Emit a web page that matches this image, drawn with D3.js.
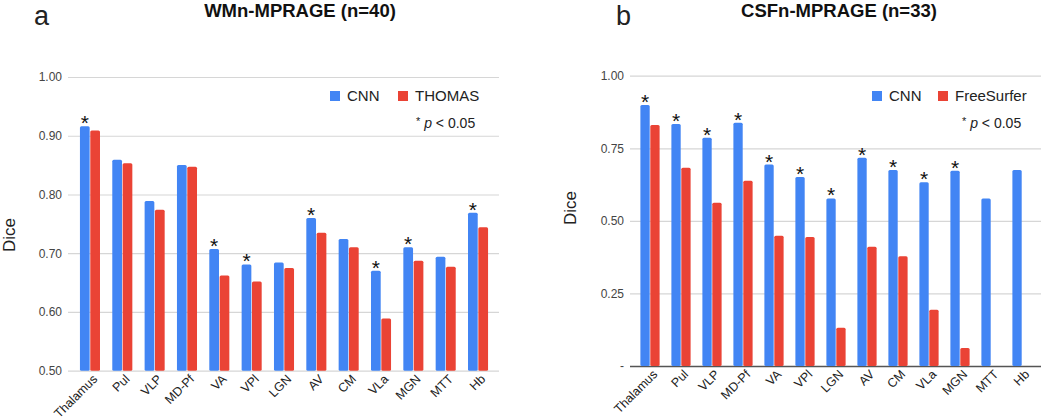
<!DOCTYPE html>
<html><head><meta charset="utf-8">
<script src="https://cdn.jsdelivr.net/npm/d3@7"></script>
<style>body{margin:0;background:#fff}svg{display:block;font-family:Arial,"Liberation Sans",sans-serif}</style>
</head><body><svg id="c" width="1050" height="420"></svg>
<script>
const categories = ["Thalamus","Pul","VLP","MD-Pf","VA","VPl","LGN","AV","CM","VLa","MGN","MTT","Hb"];
// Panel a: WMn-MPRAGE
const cnnA    = [0.916,0.859,0.789,0.850,0.707,0.681,0.684,0.760,0.724,0.670,0.710,0.694,0.769];
const thomasA = [0.909,0.853,0.774,0.847,0.662,0.652,0.675,0.735,0.710,0.589,0.687,0.677,0.744];
const sigA    = [true,false,false,false,true,true,false,true,false,true,true,false,true];
const ticksA  = [0.5,0.6,0.7,0.8,0.9,1.0];
const tickLabelsA = ["0.50","0.60","0.70","0.80","0.90","1.00"];
// Panel b: CSFn-MPRAGE
const cnnB        = [0.899,0.834,0.786,0.838,0.694,0.651,0.577,0.717,0.675,0.633,0.673,0.577,0.675];
const freesurferB = [0.830,0.683,0.562,0.638,0.449,0.444,0.132,0.411,0.378,0.194,0.062,null,null];
const sigB        = [true,true,true,true,true,true,true,true,true,true,true,false,false];
const ticksB  = [0,0.25,0.5,0.75,1.0];
const tickLabelsB = ["-","0.25","0.50","0.75","1.00"];

const BLUE = "#4285F4", RED = "#EA4335";
const svg = d3.select("#c");

function panel(o){
  const g = svg.append("g");
  const x0 = d3.scaleBand().domain(categories).range(o.xr);
  const x1 = d3.scaleBand().domain([0,1]).range([x0.bandwidth()*0.19, x0.bandwidth()*0.81]).paddingInner(0.06);
  const y = d3.scaleLinear().domain(o.yd).range(o.yr);

  const ax = d3.axisLeft(y).tickValues(o.ticks).tickFormat((d,i)=>o.tickLabels[i]).tickSize(-(o.gx[1]-o.gx[0])).tickPadding(6);
  const axg = g.append("g").attr("transform",`translate(${o.gx[0]},0)`).call(ax);
  axg.select(".domain").remove();
  axg.selectAll(".tick line").attr("stroke","#d6d6d6").attr("stroke-width",1.2);
  axg.selectAll(".tick text").attr("fill","#444").attr("font-size",12).attr("font-family","Arial,'Liberation Sans',sans-serif");
  if (o.darkBase) {
    axg.selectAll(".tick").filter(d=>d===o.yd[0]).select("line").attr("stroke","#555").attr("stroke-width",1.5);
  }

  const series = [o.s1, o.s2];
  const colors = [BLUE, RED];
  series.forEach((vals,si)=>{
    g.append("g").selectAll("rect").data(categories.map((c,i)=>({c,v:vals[i]})).filter(d=>d.v!=null))
      .join("rect")
      .attr("x",d=>x0(d.c)+x1(si))
      .attr("width",x1.bandwidth())
      .attr("y",d=>y(d.v))
      .attr("height",d=>y(o.yd[0])-y(d.v))
      .attr("rx",1.5)
      .attr("fill",colors[si]);
  });
  g.append("g").selectAll("text").data(categories.map((c,i)=>({c,v:o.s1[i],s:o.sig[i]})).filter(d=>d.s))
    .join("text")
    .attr("x",d=>x0(d.c)+x1(0)+x1.bandwidth()/2)
    .attr("y",d=>y(d.v)+4)
    .attr("text-anchor","middle").attr("font-size",21).attr("fill","#111")
    .text("*");

  g.append("g").selectAll("text").data(categories).join("text")
    .attr("transform",d=>`translate(${x0(d)+x0.bandwidth()/2+5},${y(o.yd[0])+6}) rotate(-45)`)
    .attr("text-anchor","end").attr("font-size",12.5).attr("fill","#222")
    .attr("dy","0.35em")
    .text(d=>d);

  g.append("text").attr("transform",`translate(${o.dice[0]},${o.dice[1]}) rotate(-90)`)
    .attr("text-anchor","middle").attr("font-size",17).attr("fill","#222").text("Dice");

  g.append("text").attr("x",o.letter[0]).attr("y",25).attr("font-size",27).attr("fill","#222").text(o.letterText);
  g.append("text").attr("x",o.titleX).attr("y",17).attr("text-anchor","middle").attr("font-size",18.5)
    .attr("font-weight","bold").attr("fill","#111").text(o.title);

  const lg = g.append("g").attr("transform",`translate(${o.leg[0]},0)`);
  lg.append("rect").attr("x",0).attr("y",91).attr("width",10).attr("height",10).attr("fill",BLUE);
  lg.append("text").attr("x",17).attr("y",101).attr("font-size",15).attr("fill","#222").text(o.n1);
  lg.append("rect").attr("x",o.leg[1]).attr("y",91).attr("width",10).attr("height",10).attr("fill",RED);
  lg.append("text").attr("x",o.leg[1]+17).attr("y",101).attr("font-size",15).attr("fill","#222").text(o.n2);
  const pt = g.append("text").attr("x",o.pX).attr("y",128).attr("font-size",14).attr("fill","#222");
  pt.append("tspan").attr("font-size",11).attr("dy",-3).text("*");
  pt.append("tspan").attr("dy",3).text(" ");
  pt.append("tspan").attr("font-style","italic").text("p");
  pt.append("tspan").text(" < 0.05");
}

panel({xr:[73.8,494.2], gx:[68,499], yd:[0.5,1.0], yr:[370.7,77], ticks:ticksA, tickLabels:tickLabelsA,
  s1:cnnA, s2:thomasA, sig:sigA, dice:[15,235], letter:[34], letterText:"a", title:"WMn-MPRAGE (n=40)", titleX:300,
  leg:[330,68], n1:"CNN", n2:"THOMAS", pX:416, darkBase:false});
panel({xr:[634.5,1037.5], gx:[630,1041], yd:[0,1.0], yr:[366,75.7], ticks:ticksB, tickLabels:tickLabelsB,
  s1:cnnB, s2:freesurferB, sig:sigB, dice:[576,208], letter:[616], letterText:"b", title:"CSFn-MPRAGE (n=33)", titleX:839,
  leg:[872,66], n1:"CNN", n2:"FreeSurfer", pX:962, darkBase:true});
</script></body></html>
